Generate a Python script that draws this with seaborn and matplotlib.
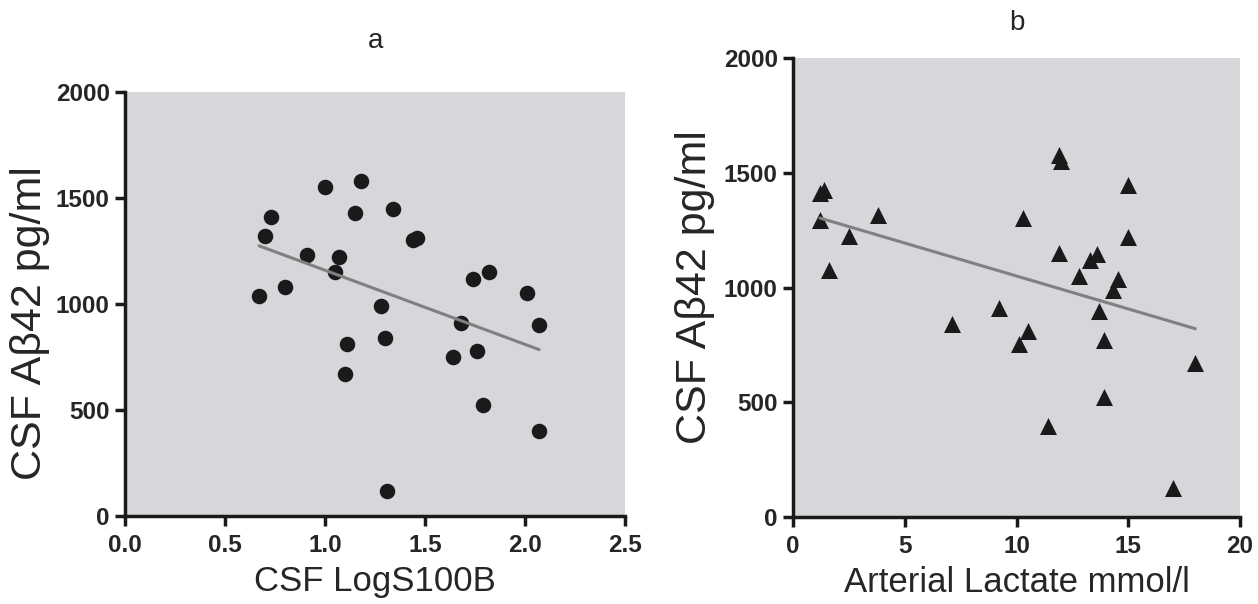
import numpy as np
import pandas as pd
import matplotlib
matplotlib.use("Agg")
import matplotlib.pyplot as plt
import seaborn as sns

# panel a: CSF LogS100B vs CSF Abeta42
s100b = [0.67, 0.70, 0.73, 0.80, 0.91, 1.00, 1.05, 1.07, 1.10, 1.11, 1.15, 1.18,
         1.28, 1.30, 1.31, 1.34, 1.44, 1.46, 1.64, 1.68, 1.74, 1.76, 1.79, 1.82,
         2.01, 2.07, 2.07]
abeta_a = [1040, 1320, 1410, 1080, 1230, 1550, 1150, 1220, 670, 810, 1430, 1580,
           990, 840, 120, 1450, 1300, 1310, 750, 910, 1120, 780, 525, 1150,
           1050, 900, 400]

# panel b: arterial lactate vs CSF Abeta42
lactate = [1.2, 1.4, 1.2, 2.5, 1.6, 3.8, 7.1, 9.2, 10.1, 10.5, 10.3, 11.4,
           11.9, 12.0, 11.9, 12.8, 13.3, 13.6, 13.7, 13.9, 13.9, 14.3, 14.55,
           15.0, 15.0, 17.0, 18.0]
abeta_b = [1410, 1425, 1295, 1225, 1077, 1314, 839, 911, 752, 810, 1305, 398,
           1579, 1549, 1149, 1049, 1121, 1146, 898, 773, 525, 987, 1037,
           1446, 1218, 126, 669]

df_a = pd.DataFrame({"x": s100b, "y": abeta_a})
df_b = pd.DataFrame({"x": lactate, "y": abeta_b})

sns.set_style("ticks")
plt.rcParams['font.family'] = ['Liberation Sans', 'DejaVu Sans']

fig = plt.figure(figsize=(12.58, 6.04), dpi=100)
ax_a = fig.add_axes([0.0994, 0.1457, 0.3975, 0.702])
ax_b = fig.add_axes([0.6304, 0.144, 0.3553, 0.760])

bg = "#d6d7db"
line_kws = {"color": "#808080", "lw": 2.2}

sns.regplot(data=df_a, x="x", y="y", ax=ax_a, ci=None, marker="o",
            scatter_kws={"s": 125, "color": "#1a1a1a", "alpha": 1, "linewidths": 0},
            line_kws=line_kws)
sns.regplot(data=df_b, x="x", y="y", ax=ax_b, ci=None, marker="^",
            scatter_kws={"s": 150, "color": "#1a1a1a", "alpha": 1, "linewidths": 0},
            line_kws=line_kws)

ax_a.set_xlim(0, 2.5)
ax_a.set_xticks([0.0, 0.5, 1.0, 1.5, 2.0, 2.5])
ax_a.set_xticklabels(["0.0", "0.5", "1.0", "1.5", "2.0", "2.5"])
ax_b.set_xlim(0, 20)
ax_b.set_xticks([0, 5, 10, 15, 20])

for ax, title, xlabel in [(ax_a, "a", "CSF LogS100B"),
                          (ax_b, "b", "Arterial Lactate mmol/l")]:
    ax.set_ylim(0, 2000)
    ax.set_yticks([0, 500, 1000, 1500, 2000])
    ax.set_facecolor(bg)
    sns.despine(ax=ax)
    for sp in ["left", "bottom"]:
        ax.spines[sp].set_linewidth(2.5)
        ax.spines[sp].set_color("#1a1a1a")
    ax.tick_params(width=2.5, length=7, color="#1a1a1a", labelsize=17.5, pad=4)
    ax.tick_params(axis="x", pad=6)
    for lab in ax.get_xticklabels() + ax.get_yticklabels():
        lab.set_fontweight("bold")
    ax.set_xlabel(xlabel, fontsize=25, labelpad=6)
    ax.set_ylabel("CSF A\u03b242 pg/ml", fontsize=31, labelpad=6)
    ax.set_title(title, fontsize=20, pad=32 if ax is ax_a else 20)

# label of panel a sits a little below the axes centre in the original
ax_a.yaxis.set_label_coords(-0.15, 0.455)

fig.savefig("out.png", dpi=100, facecolor="white")
